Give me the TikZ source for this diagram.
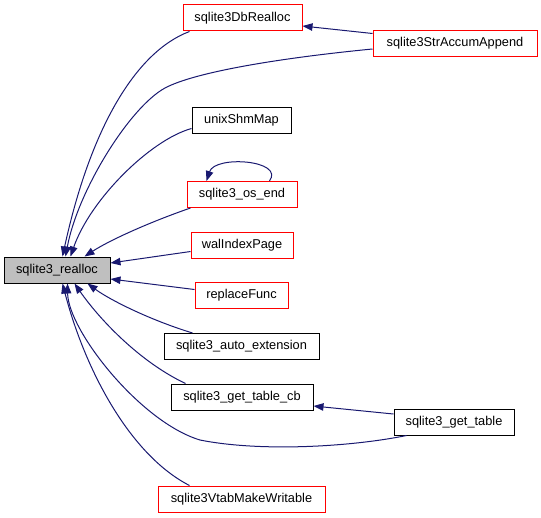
\documentclass[tikz,border=0pt]{standalone}
\usepackage{fontspec}
\setmainfont{Liberation Sans}
\usetikzlibrary{arrows.meta,calc}
\definecolor{edgeblue}{HTML}{191970}
\definecolor{boxred}{HTML}{FF0000}
\definecolor{boxgray}{HTML}{BFBFBF}
\begin{document}
\begin{tikzpicture}[x=0.75pt,y=-0.75pt,
  fn/.style={draw=black, line width=0.75pt, fill=white, minimum height=19.5pt, inner sep=0pt, font=\fontsize{9.6}{11}\selectfont},
  redfn/.style={fn, draw=boxred},
  call/.style={draw=edgeblue, line width=0.75pt, -{Triangle[length=7.5pt,width=5.6pt]}}
]
\useasboundingbox (0,0) rectangle (541,517);

\node[fn, fill=boxgray, minimum width=79.5pt] (ra) at (57,270) {sqlite3\_realloc};
\node[redfn, minimum width=89.25pt] (dbr) at (242.5,18) {sqlite3DbRealloc};
\node[redfn, minimum width=123pt] (sa) at (455,43.5) {sqlite3StrAccumAppend};
\node[fn, minimum width=74.25pt] (shm) at (241.5,120) {unixShmMap};
\node[redfn, minimum width=82.5pt] (ose) at (242,194.5) {sqlite3\_os\_end};
\node[redfn, minimum width=76.5pt] (wal) at (242,245.5) {walIndexPage};
\node[redfn, minimum width=69.75pt] (rep) at (241.5,295.5) {replaceFunc};
\node[fn, minimum width=116.25pt] (auto) at (241.5,346.5) {sqlite3\_auto\_extension};
\node[fn, minimum width=106.5pt] (gtc) at (242,397) {sqlite3\_get\_table\_cb};
\node[fn, minimum width=90pt] (gt) at (454,422) {sqlite3\_get\_table};
\node[redfn, minimum width=125.25pt] (vtab) at (241.5,499) {sqlite3VtabMakeWritable};

% calls into sqlite3_realloc from above
\draw[call] ($(dbr.south west)+(7,0)$) .. controls (135,52) and (90,130) .. ($(ra.north west)+(59,0)$);
\draw[call] ($(sa.west)+(0,5.5)$) .. controls (280,58) and (195,72) .. (165,88)
  .. controls (130,107) and (78,190) .. ($(ra.north west)+(62,0)$);
\draw[call] ($(shm.south west)+(0,-5)$) .. controls (150,140) and (90,200) .. ($(ra.north west)+(67,0)$);
\draw[call] ($(ose.south west)+(4,0)$) .. controls (150,222) and (110,240) .. ($(ra.north west)+(81,0)$);
% self loop
\draw[call] ($(ose.north west)+(83,0)$) .. controls (285,160) and (215,155) .. ($(ose.north west)+(20,0)$);
% side calls
\draw[call] ($(wal.west)+(0,6)$) -- ($(ra.east)+(0,-7)$);
\draw[call] ($(rep.west)+(0,-6)$) -- ($(ra.east)+(0,9)$);
% calls from below
\draw[call] ($(auto.north west)+(29,0)$) .. controls (150,320) and (110,300) .. ($(ra.south west)+(84,0)$);
\draw[call] ($(gtc.north west)+(15,0)$) .. controls (140,362) and (100,320) .. ($(ra.south west)+(71,0)$);
\draw[call] ($(gt.south west)+(13,0)$) .. controls (350,447) and (260,452) .. (200,440)
  .. controls (140,422) and (68,330) .. ($(ra.south west)+(64,0)$);
\draw[call] ($(vtab.north west)+(32,0)$) .. controls (130,455) and (85,370) .. ($(ra.south west)+(59,0)$);
% other calls
\draw[call] ($(gt.west)+(0,-8)$) -- ($(gtc.east)+(0,9)$);
\draw[call] ($(sa.west)+(0,-10)$) -- ($(dbr.east)+(0,8)$);
\end{tikzpicture}
\end{document}
